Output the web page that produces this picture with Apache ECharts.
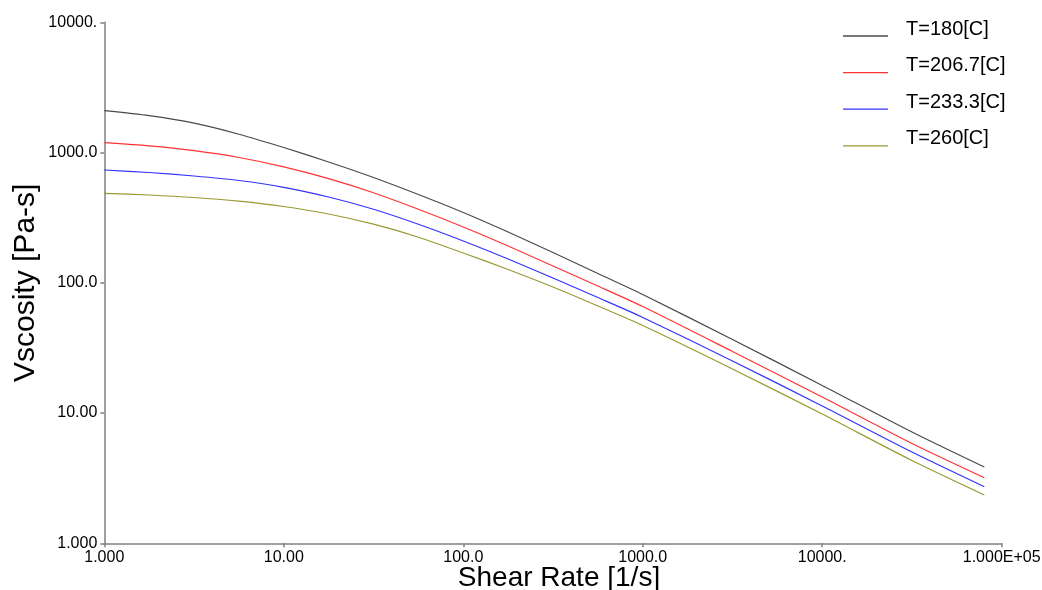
<!DOCTYPE html>
<html>
<head>
<meta charset="utf-8">
<script src="https://cdn.jsdelivr.net/npm/echarts@6/dist/echarts.min.js"></script>
<style>
html,body{margin:0;padding:0;background:#fff;}
#chart{width:1042px;height:590px;}
</style>
</head>
<body>
<div id="chart"></div>
<script>
// Shear rate sample points [1/s]
const shearRates = [1, 1.778, 3.162, 5.623, 10, 17.78, 31.62, 56.23, 100, 177.8, 316.2, 562.3, 1000, 3162, 10000, 31620, 80000];
// Viscosity [Pa-s] per temperature
const visc180  = [2096, 1918, 1680, 1383, 1093, 846, 643, 476, 346.6, 245.5, 170.9, 117.9, 81.3, 36.7, 16.3, 7.15, 3.85];
const visc2067 = [1190, 1125, 1033, 916, 777, 631, 491, 366.7, 268.2, 191.7, 134.6, 94.5, 65.8, 29.7, 13.28, 5.84, 3.19];
const visc2333 = [734.6, 702.8, 660.7, 610, 541, 455.7, 366.7, 281.3, 209.4, 152.3, 108.9, 77.1, 54.2, 25.1, 11.33, 5.02, 2.72];
const visc260  = [486.6, 472.1, 451.7, 423.1, 385.3, 337.5, 281.8, 223.9, 169.4, 126.5, 92.8, 66.4, 47.0, 21.8, 9.83, 4.32, 2.35];
const seriesNames = ['T=180[C]', 'T=206.7[C]', 'T=233.3[C]', 'T=260[C]'];
const seriesColors = ['#4a4a4a', '#ff3333', '#3333ff', '#999933'];
// Tick labels
const xTickValues = [1, 10, 100, 1000, 10000, 100000];
const xTickLabels = ['1.000', '10.00', '100.0', '1000.0', '10000.', '1.000E+05'];
const yTickValues = [1, 10, 100, 1000, 10000];
const yTickLabels = ['1.000', '10.00', '100.0', '1000.0', '10000.'];

function lookup(vals, labels, v) {
  for (let i = 0; i < vals.length; i++) {
    if (Math.abs(Math.log10(v) - Math.log10(vals[i])) < 1e-6) return labels[i];
  }
  return '';
}

const allVisc = [visc180, visc2067, visc2333, visc260];
const series = allVisc.map((arr, i) => ({
  name: seriesNames[i],
  type: 'line',
  data: shearRates.map((x, j) => [x, arr[j]]),
  smooth: 0.25,
  showSymbol: false,
  symbol: 'none',
  lineStyle: { color: seriesColors[i], width: 1.2 },
  itemStyle: { color: seriesColors[i] }
}));

const axisCol = '#808080';
const FONT = 'Liberation Sans, Arial, sans-serif';
const chart = echarts.init(document.getElementById('chart'), null, { renderer: 'canvas' });
chart.setOption({
  animation: false,
  backgroundColor: '#fff',
  textStyle: { fontFamily: FONT },
  grid: { left: 104.3, right: 40.3, top: 22.3, bottom: 46.7, containLabel: false, outerBoundsMode: 'none' },
  legend: {
    orient: 'vertical',
    left: 838,
    top: 14,
    itemWidth: 45,
    itemHeight: 14,
    itemGap: 2.6,
    icon: 'path://M0,0 L45,0 L45,1.3 L0,1.3 Z',
    formatter: n => '{t|' + n + '}\n{s|}',
    textStyle: {
      color: '#000', fontFamily: FONT, padding: [0, 0, 0, 13],
      rich: {
        t: { fontSize: 20, lineHeight: 20, color: '#000', fontFamily: FONT },
        s: { fontSize: 10, lineHeight: 14, height: 14 }
      }
    },
    data: seriesNames.map((n, i) => ({ name: n, itemStyle: { color: seriesColors[i] } }))
  },
  xAxis: {
    type: 'log',
    logBase: 10,
    min: 1,
    max: 100000,
    splitNumber: 5,
    name: 'Shear Rate [1/s]',
    nameLocation: 'middle',
    nameGap: 21,
    nameMoveOverlap: false,
    nameTextStyle: { fontSize: 28, color: '#000', padding: [0, 0, 0, 12] },
    axisLine: { show: true, lineStyle: { color: axisCol, width: 1.5 } },
    axisTick: { show: true, length: 4, lineStyle: { color: axisCol, width: 1.5 } },
    minorTick: { show: false },
    splitLine: { show: false },
    axisLabel: {
      fontSize: 16, color: '#000', margin: 6,
      showMaxLabel: true, showMinLabel: true,
      formatter: v => lookup(xTickValues, xTickLabels, v)
    }
  },
  yAxis: {
    type: 'log',
    logBase: 10,
    min: 1,
    max: 10000,
    splitNumber: 4,
    name: 'Vscosity [Pa-s]',
    nameLocation: 'middle',
    nameGap: 64,
    nameMoveOverlap: false,
    nameRotate: 90,
    nameTextStyle: { fontSize: 30, color: '#000' },
    axisLine: { show: true, lineStyle: { color: axisCol, width: 1.5 } },
    axisTick: { show: true, length: 4, lineStyle: { color: axisCol, width: 1.5 } },
    splitLine: { show: false },
    axisLabel: {
      fontSize: 16, color: '#000', margin: 7,
      showMaxLabel: true, showMinLabel: true,
      formatter: v => lookup(yTickValues, yTickLabels, v)
    }
  },
  series: series
});
</script>
</body>
</html>
